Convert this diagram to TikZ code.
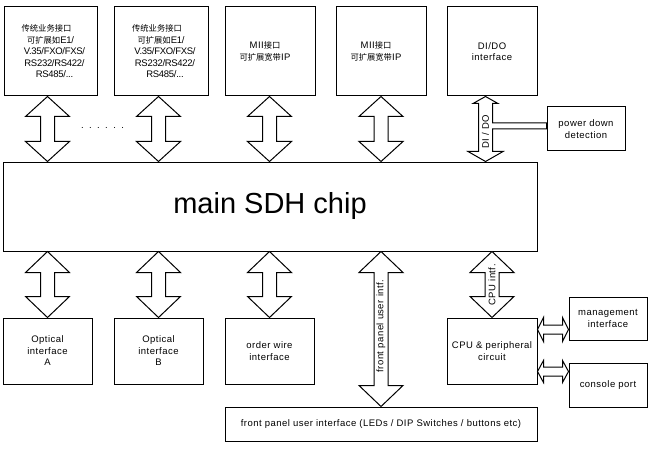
\documentclass[tikz,border=0pt]{standalone}
\usepackage{fontspec}
\setmainfont{Liberation Sans}[LetterSpace=5]
\newfontfamily\cjk{Noto Sans CJK SC}
\usetikzlibrary{calc}
\tikzset{
  box/.style={draw, line width=1pt, inner sep=0pt, align=center, font=\fontsize{9.5}{11.5}\selectfont},
  lbl/.style={inner sep=0pt, font=\fontsize{9.5}{11.5}\selectfont},
  arr/.style={draw, line width=1pt, fill=white, line join=miter},
}
\newcommand{\cj}[1]{{\cjk\fontsize{8.3}{11}\selectfont #1}}
\newcommand{\nr}[1]{{\addfontfeature{LetterSpace=-3}#1}}
% vertical double arrow: #1 top tip, #2 bottom tip, #3 head length, #4 head half width, #5 shaft half width
\newcommand{\vdarrow}[5]{%
  \path[arr] let \p1=(#1), \p2=(#2) in
   (\x1,\y1) -- (\x1+#4pt,\y1-#3pt) -- (\x1+#5pt,\y1-#3pt) -- (\x1+#5pt,\y2+#3pt) -- (\x1+#4pt,\y2+#3pt) -- (\x1,\y2)
   -- (\x1-#4pt,\y2+#3pt) -- (\x1-#5pt,\y2+#3pt) -- (\x1-#5pt,\y1-#3pt) -- (\x1-#4pt,\y1-#3pt) -- cycle;}
% horizontal double arrow: #1 left tip, #2 right tip
\newcommand{\hdarrow}[5]{%
  \path[arr] let \p1=(#1), \p2=(#2) in
   (\x1,\y1) -- (\x1+#3pt,\y1+#4pt) -- (\x1+#3pt,\y1+#5pt) -- (\x2-#3pt,\y1+#5pt) -- (\x2-#3pt,\y1+#4pt) -- (\x2,\y1)
   -- (\x2-#3pt,\y1-#4pt) -- (\x2-#3pt,\y1-#5pt) -- (\x1+#3pt,\y1-#5pt) -- (\x1+#3pt,\y1-#4pt) -- cycle;}
\begin{document}
\begin{tikzpicture}[x=1pt,y=-1pt]
\useasboundingbox (0,0) rectangle (652,449);
% top row
\node[box, minimum width=93, minimum height=89] (t1) at (50.5,51.5)
  {\cj{传统业务接口}\hspace*{8pt}\\\cj{可扩展如}\nr{E1/}\hspace*{6pt}\\\hspace*{8pt}\nr{V.35/FXO/FXS/}\\\hspace*{8pt}\nr{RS232/RS422/}\\\hspace*{8pt}\nr{RS485/...}};
\node[box, minimum width=94, minimum height=89] (t2) at (161,51.5)
  {\cj{传统业务接口}\hspace*{8pt}\\\cj{可扩展如}\nr{E1/}\hspace*{6pt}\\\hspace*{8pt}\nr{V.35/FXO/FXS/}\\\hspace*{8pt}\nr{RS232/RS422/}\\\hspace*{8pt}\nr{RS485/...}};
\node[box, minimum width=90, minimum height=89] (t3) at (270,51.5)
  {MII\cj{接口}\hspace*{10pt}\\\cj{可扩展宽带}IP\hspace*{10pt}};
\node[box, minimum width=90, minimum height=89] (t4) at (381,51.5)
  {MII\cj{接口}\hspace*{10pt}\\\cj{可扩展宽带}IP\hspace*{10pt}};
\node[box, minimum width=90, minimum height=89] (dido) at (492,51.5) {DI/DO\\interface};
\node[box, minimum width=78, minimum height=44] (pd) at (586,129) {power down\\detection};
% chip
\node[box, minimum width=534, minimum height=89, font=\fontsize{29}{32}\selectfont\addfontfeature{LetterSpace=0}] (chip) at (270,206.5) {main SDH chip};
% bottom row
\node[box, minimum width=89, minimum height=66] (bA) at (47.5,351) {Optical\\interface\\A};
\node[box, minimum width=89, minimum height=66] (bB) at (158.5,351) {Optical\\interface\\B};
\node[box, minimum width=89, minimum height=66] (ow) at (269.5,351) {order wire\\interface};
\node[box, minimum width=90, minimum height=66] (cpu) at (492,351) {CPU \& peripheral\\circuit};
\node[box, minimum width=78, minimum height=43] (mg) at (608,318.5) {management\\interface};
\node[box, minimum width=78, minimum height=44] (con) at (608,385) {console port};
\node[box, minimum width=312, minimum height=34] (fp) at (381,424) {front panel user interface (LEDs / DIP Switches / buttons etc)};
% top arrows
\vdarrow{$(t1.south -| bA.north)$}{$(bA.north |- chip.north)$}{20}{22}{7}
\vdarrow{$(t2.south -| bB.north)$}{$(bB.north |- chip.north)$}{20}{22}{7}
\vdarrow{$(t3.south -| ow.north)$}{$(ow.north |- chip.north)$}{20}{22}{7}
\vdarrow{t4.south}{$(t4.south |- chip.north)$}{20}{22}{7}
\node[lbl, font=\fontsize{9.5}{11.5}\selectfont\addfontfeature{LetterSpace=57}] (dots) at (102.5,128) {......};
% bottom arrows
\vdarrow{$(bA.north |- chip.south)$}{bA.north}{21}{22}{7}
\vdarrow{$(bB.north |- chip.south)$}{bB.north}{21}{22}{7}
\vdarrow{$(ow.north |- chip.south)$}{ow.north}{21}{22}{7}
\vdarrow{$(fp.north |- chip.south)$}{fp.north}{21}{22}{7}
\vdarrow{$(cpu.north |- chip.south)$}{cpu.north}{21}{22}{7}
\node[lbl, rotate=90] (fpl) at (381,326) {front panel user intf.};
\node[lbl, rotate=90] (cpul) at (492,285) {CPU intf.};
% DI/DO arrow with branch to power down detection
\coordinate (dt) at ($(dido.south)+(-6.5,0)$);
\coordinate (db) at (dt |- chip.north);
\path[arr] let \p1=(dt), \p2=(db), \p3=(pd.west) in
  (\x1,\y1) -- (\x1+12.5pt,\y1-7pt) -- (\x1+7pt,\y1-7pt) -- (\x1+7pt,\y3+6pt) -- (\x3,\y3+6pt)
  -- (\x3,\y3) -- (\x1+7pt,\y3) -- (\x1+7pt,\y2+10pt) -- (\x1+17.5pt,\y2+10pt) -- (\x1,\y2)
  -- (\x1-17.5pt,\y2+10pt) -- (\x1-7pt,\y2+10pt) -- (\x1-7pt,\y1-7pt) -- (\x1-12.5pt,\y1-7pt) -- cycle;
\node[lbl, rotate=90] (didol) at ($(dt)!0.54!(db)$) {DI / DO};
% horizontal arrows
\coordinate (ma) at ($(mg.south west)+(0,-11)$);
\coordinate (ca) at ($(con.north west)+(0,9)$);
\hdarrow{cpu.east |- ma}{ma}{6}{12}{4.5}
\hdarrow{cpu.east |- ca}{ca}{6}{11}{4.5}
\end{tikzpicture}
\end{document}
